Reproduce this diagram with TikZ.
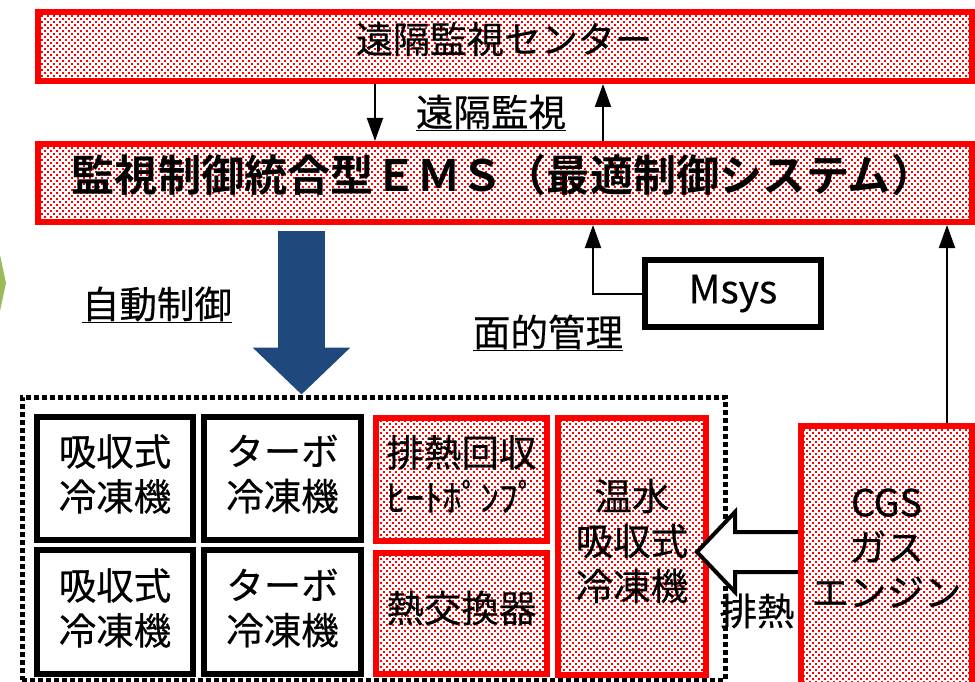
\documentclass[tikz,border=0pt]{standalone}
\usepackage{fontspec}
\newfontfamily\cjk{Noto Sans CJK JP}[BoldFont={Noto Sans CJK JP Bold}]
\newfontfamily\cjkr{Noto Sans CJK JP}[FakeBold=0.4]
\usetikzlibrary{patterns,arrows.meta}
\definecolor{navy}{RGB}{31,73,125}
\definecolor{leaf}{RGB}{155,187,89}
\pgfdeclarepatternformonly{reddots}{\pgfqpoint{-1.5pt}{-1.5pt}}{\pgfqpoint{4.5pt}{4.5pt}}{\pgfqpoint{6pt}{6pt}}{%
  \pgfpathrectangle{\pgfqpoint{-0.8pt}{-0.8pt}}{\pgfqpoint{1.6pt}{1.6pt}}%
  \pgfpathrectangle{\pgfqpoint{2.2pt}{2.2pt}}{\pgfqpoint{1.6pt}{1.6pt}}%
  \pgfusepath{fill}}
\tikzset{
  redbox/.style={draw=red, line width=6pt, pattern=reddots, pattern color=red, inner sep=0pt},
  blackbox/.style={draw=black, line width=6pt, fill=white, inner sep=0pt},
  txt/.style={font=\cjkr\fontsize{37.5}{45}\selectfont, align=center, inner sep=0pt},
  ulab/.style={font=\cjkr\fontsize{37.5}{42}\selectfont, inner sep=0pt},
  conn/.style={line width=2pt, -{Triangle[length=23pt,width=16pt]}},
  uline/.style={line width=1.8pt},
}
\begin{document}
\begin{tikzpicture}[x=1pt,y=-1pt]
\useasboundingbox (0,0) rectangle (975,682);
\clip (0,0) rectangle (975,682);
% helper x positions
\coordinate (xa) at (375,0);
\coordinate (xb) at (603,0);
\coordinate (xc) at (593,0);
\coordinate (xd) at (947,0);
\coordinate (xe) at (301.5,0);
% green chevron at left edge
\fill[leaf] (-6,255) -- (0,255) -- (6,283) -- (0,311) -- (-6,311) -- cycle;
% top box
\node[redbox, minimum width=934pt, minimum height=69pt] (center) at (505,46.5) {};
\node[txt, font=\cjkr\fontsize{37}{45}\selectfont] (centert) at (504,39) {遠隔監視センター};
% EMS box
\node[redbox, minimum width=934pt, minimum height=78pt] (ems) at (505,183) {};
\node[inner sep=0pt, font=\cjk\bfseries\fontsize{43.2}{45}\selectfont] (emst) at (503,175) {監視制御統合型ＥＭＳ（最適制御システム）};
% remote monitoring arrows
\draw[conn] (center.south -| xa) -- (ems.north -| xa);
\draw[conn] (ems.north -| xb) -- (center.south -| xb);
\node[ulab] (rlab) at (491,112) {遠隔監視};
\draw[uline] ([yshift=-1pt]rlab.south west) -- ([yshift=-1pt]rlab.south east);
% Msys
\node[draw=black, line width=6pt, fill=white, minimum width=176pt, minimum height=67pt, font=\cjkr\fontsize{39}{45}\selectfont] (msys) at (733,293.5) {Msys};
\draw[conn] (msys.west) -| (ems.south -| xc);
\node[ulab] (mlab) at (548,332) {面的管理};
\draw[uline] ([yshift=-1pt]mlab.south west) -- ([yshift=-1pt]mlab.south east);
% container
\node[draw=black, line width=5pt, dash pattern=on 5pt off 3pt, minimum width=703pt, minimum height=283pt] (cont) at (373.5,538.5) {};
% automatic control
\draw[navy, line width=47pt, -{Triangle[length=47pt,width=95pt]}] ([yshift=-6pt]ems.south -| xe) -- (cont.north -| xe);
\node[ulab] (alab) at (157,304) {自動制御};
\draw[uline] ([yshift=-1pt]alab.south west) -- ([yshift=-1pt]alab.south east);
% chillers
\node[blackbox, minimum width=156pt, minimum height=123pt] (a1) at (115,478.5) {};
\node[txt] (a1t) at (115,474) {吸収式\\冷凍機};
\node[blackbox, minimum width=157pt, minimum height=123pt] (a2) at (282.5,478.5) {};
\node[txt] (a2t) at (282.5,474) {ターボ\\冷凍機};
\node[blackbox, minimum width=156pt, minimum height=124pt] (b1) at (115,612) {};
\node[txt] (b1t) at (115,608) {吸収式\\冷凍機};
\node[blackbox, minimum width=157pt, minimum height=124pt] (b2) at (282.5,612) {};
\node[txt] (b2t) at (282.5,608) {ターボ\\冷凍機};
\node[redbox, minimum width=171pt, minimum height=123pt] (hp) at (461.5,479) {};
\node[txt] (hpt) at (461.5,474) {排熱回収\\ﾋｰﾄﾎﾟﾝﾌﾟ};
\node[redbox, minimum width=171pt, minimum height=121pt] (hx) at (461.5,613.5) {};
\node[txt] (hxt) at (461.5,608) {熱交換器};
\node[redbox, minimum width=148pt, minimum height=257pt] (hot) at (632,546) {};
\node[txt] (hott) at (632,541) {温水\\吸収式\\冷凍機};
% waste heat block arrow
\draw[line width=4pt, fill=white, miter limit=10] (801,532) -- (735,532) -- (735,512) -- (697,552) -- (735,592) -- (735,572) -- (801,572) -- cycle;
\node[txt] (wlab) at (757,611) {排熱};
% CGS
\node[redbox, minimum width=171pt, minimum height=259pt] (cgs) at (886.5,555.5) {};
\node[txt] (cgst) at (886.5,548) {CGS\\ガス\\エンジン};
\draw[conn] (cgs.north -| xd) -- (ems.south -| xd);
\end{tikzpicture}
\end{document}
